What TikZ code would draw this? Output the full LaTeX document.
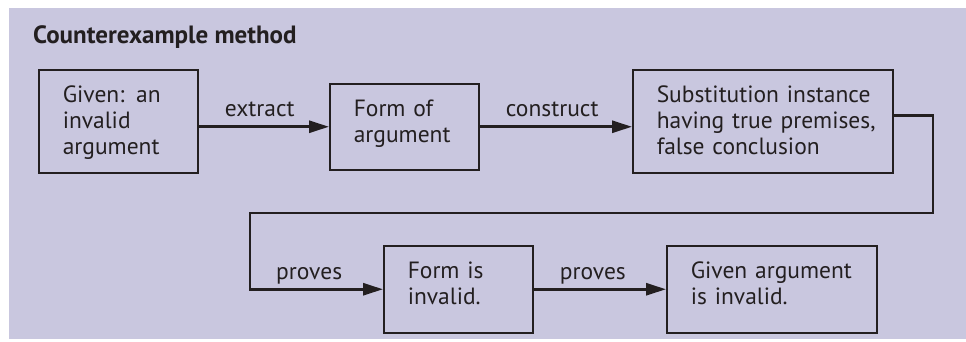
\documentclass[tikz,border=0pt]{standalone}
\usepackage{fontspec}
\setmainfont{PT Sans}
\usetikzlibrary{arrows.meta}
\definecolor{bg}{HTML}{C9C7DF}
\definecolor{ink}{HTML}{231F20}
\begin{document}
\begin{tikzpicture}[x=1pt,y=1pt,
  txt/.style={font=\fontsize{23.5}{26}\selectfont, text=ink},
  box/.style={txt, draw=ink, line width=1.5pt, align=left, inner xsep=24pt,
    inner ysep=16pt, text height=17pt, anchor=north west},
  conn/.style={draw=ink, line width=2.8pt},
  arr/.style={conn, -{Triangle[length=20pt,width=12pt]}},
  lbl/.style={txt, anchor=base west, inner sep=0pt},
  elbl/.style={lbl, pos=0, xshift=25pt, yshift=10pt},
  title/.style={font=\bfseries\fontsize{25}{28}\selectfont, text=ink, anchor=base west, inner sep=0pt}
]
\useasboundingbox (0,0) rectangle (966,341);
\fill[bg] (9,2) rectangle (966,333);
\node[title] (title) at (33,298) {Counterexample method};
\node[box, text width=111pt, text depth=54pt] (b1) at (38,272)
  {\mbox{Given: an}\\\mbox{invalid}\\\mbox{argument}};
\node[box, text width=101pt, text depth=37pt] (b2) at (329,258)
  {\mbox{Form of}\\\mbox{argument}};
\node[box, text width=212pt, text depth=54pt] (b3) at (632,272)
  {\mbox{Substitution instance}\\\mbox{having true premises,}\\\mbox{false conclusion}};
\node[box, text width=101pt, text depth=38pt] (b4) at (383,96)
  {\mbox{Form is}\\\mbox{invalid.}};
\node[box, text width=162pt, text depth=38pt] (b5) at (666,96)
  {\mbox{Given argument}\\\mbox{is invalid.}};
\coordinate (r1) at (933,128);
\coordinate (l1) at (250,128);
\coordinate (l2) at (l1 |- b4.west);
\draw[arr] (b1.east |- b2.west) -- node[elbl] (t1) {extract} (b2.west);
\draw[arr] (b2.east) -- node[elbl] (t2) {construct} (b3.west |- b2.east);
\draw[arr] ([yshift=5.5pt]b3.east) -| (r1) -- (l1) -- (l2) -- (b4.west);
\node[lbl] (t3) at ([xshift=26pt,yshift=10pt]l2) {proves};
\draw[arr] (b4.east) -- node[elbl] (t4) {proves} (b5.west);
\end{tikzpicture}
\end{document}
